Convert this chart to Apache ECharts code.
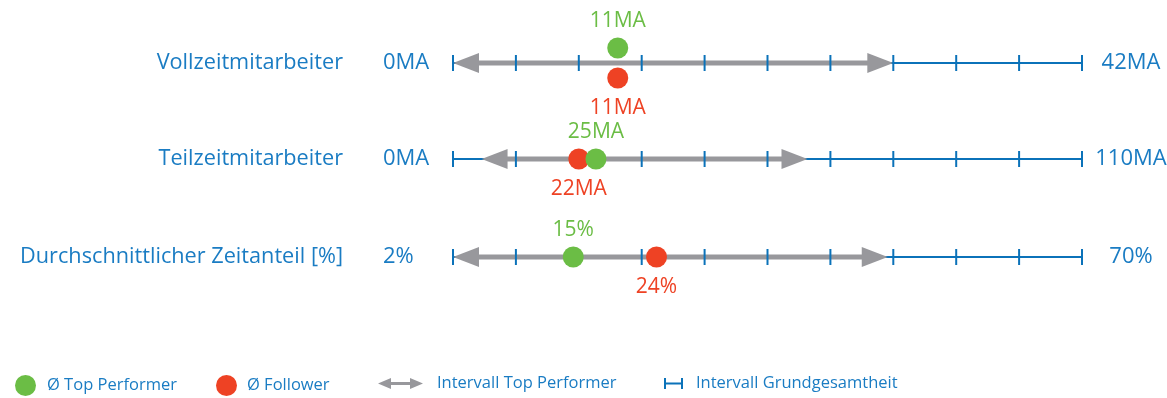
<!DOCTYPE html>
<html>
<head>
<meta charset="utf-8">
<script src="https://cdn.jsdelivr.net/npm/echarts@6/dist/echarts.min.js"></script>
<style>
  html, body { margin: 0; padding: 0; background: #ffffff; }
  #chart { width: 1167px; height: 398px; }
</style>
</head>
<body>
<div id="chart"></div>
<script>
// Row definitions
const rowNames = ['Vollzeitmitarbeiter', 'Teilzeitmitarbeiter', 'Durchschnittlicher Zeitanteil [%]'];
const units = ['MA', 'MA', '%'];
// Range of the whole population (Grundgesamtheit)
const rangeMin = [0, 0, 2];
const rangeMax = [42, 110, 70];
// Interval spanned by the top performers
const topIntervalLow = [0, 5, 2];
const topIntervalHigh = [29.4, 62, 49];
// Averages
const topPerformer = [11, 25, 15];
const follower = [11, 22, 24];

const SERIES_TOP = 'Ø Top Performer';
const SERIES_FOLLOW = 'Ø Follower';
const SERIES_INTERVAL = 'Intervall Top Performer';
const SERIES_RANGE = 'Intervall Grundgesamtheit';

const TICK_STEPS = 10;
const AXIS_BLUE = '#0b72b9';
const TEXT_BLUE = '#1a7cc3';
const GREEN = '#6bbd45';
const RED = '#ee4224';
const GREY = '#98989c';
const FONT = '"Open Sans", "Noto Sans", sans-serif';

// Layout
const rowCenterY = [63, 159, 257];
const plotLeft = 453;
const plotRight = 85;
const HEAD_LEN = 26;
const HEAD_HALF = 10;

function rulerLineRenderer(i) {
  return function (params, api) {
    const a = api.coord([api.value(0), 0]);
    const b = api.coord([api.value(1), 0]);
    return {
      type: 'group',
      children: [
        { type: 'line', shape: { x1: a[0], y1: a[1], x2: b[0], y2: b[1] },
          style: { stroke: AXIS_BLUE, lineWidth: 2 } },
        { type: 'text', x: a[0] - 70, y: a[1],
          style: { text: rangeMin[i] + units[i], fill: TEXT_BLUE, fontSize: 22, fontFamily: FONT,
                   align: 'left', verticalAlign: 'middle' } },
        { type: 'text', x: b[0] + 49, y: b[1],
          style: { text: rangeMax[i] + units[i], fill: TEXT_BLUE, fontSize: 22, fontFamily: FONT,
                   align: 'center', verticalAlign: 'middle' } }
      ]
    };
  };
}

function rulerTickRenderer(params, api) {
  const lo = api.value(0), hi = api.value(1);
  const children = [];
  for (let k = 0; k <= TICK_STEPS; k++) {
    const p = api.coord([lo + (hi - lo) * k / TICK_STEPS, 0]);
    children.push({ type: 'line', shape: { x1: p[0], y1: p[1] - 8, x2: p[0], y2: p[1] + 8 },
                    style: { stroke: AXIS_BLUE, lineWidth: 2 } });
  }
  return { type: 'group', children };
}

function arrowRenderer(params, api) {
  const a = api.coord([api.value(0), 0]);
  const b = api.coord([api.value(1), 0]);
  const y = a[1];
  return {
    type: 'group',
    children: [
      { type: 'rect', shape: { x: a[0] + HEAD_LEN - 1, y: y - 2.5, width: b[0] - a[0] - 2 * HEAD_LEN + 2, height: 5 },
        style: { fill: GREY } },
      { type: 'polygon', shape: { points: [[a[0], y], [a[0] + HEAD_LEN, y - HEAD_HALF], [a[0] + HEAD_LEN, y + HEAD_HALF]] },
        style: { fill: GREY } },
      { type: 'polygon', shape: { points: [[b[0], y], [b[0] - HEAD_LEN, y - HEAD_HALF], [b[0] - HEAD_LEN, y + HEAD_HALF]] },
        style: { fill: GREY } }
    ]
  };
}

const grids = [], xAxes = [], yAxes = [], series = [];

rowNames.forEach(function (name, i) {
  grids.push({ left: plotLeft, right: plotRight, top: rowCenterY[i] - 20, height: 40 });
  xAxes.push({ type: 'value', gridIndex: i, min: rangeMin[i], max: rangeMax[i], show: false });
  yAxes.push({
    type: 'category', gridIndex: i, data: [name],
    axisLine: { show: false }, axisTick: { show: false }, splitLine: { show: false },
    axisLabel: { margin: 110, fontSize: 21.7, fontFamily: FONT, color: TEXT_BLUE }
  });

  const same = topPerformer[i] === follower[i];

  series.push({
    name: SERIES_RANGE, type: 'custom', xAxisIndex: i, yAxisIndex: i, z: 2, silent: true,
    itemStyle: { color: AXIS_BLUE },
    encode: { x: [0, 1], y: 2 },
    renderItem: rulerLineRenderer(i),
    data: [[rangeMin[i], rangeMax[i], 0]]
  });
  series.push({
    name: SERIES_INTERVAL, type: 'custom', xAxisIndex: i, yAxisIndex: i, z: 3, silent: true,
    itemStyle: { color: GREY },
    encode: { x: [0, 1], y: 2 },
    renderItem: arrowRenderer,
    data: [[topIntervalLow[i], topIntervalHigh[i], 0]]
  });
  series.push({
    name: SERIES_RANGE, type: 'custom', xAxisIndex: i, yAxisIndex: i, z: 4, silent: true,
    itemStyle: { color: AXIS_BLUE },
    encode: { x: [0, 1], y: 2 },
    renderItem: rulerTickRenderer,
    data: [[rangeMin[i], rangeMax[i], 0]]
  });
  series.push({
    name: SERIES_FOLLOW, type: 'scatter', xAxisIndex: i, yAxisIndex: i, z: 5, silent: true,
    symbol: 'circle', symbolSize: 21, symbolOffset: same ? [0, 15] : [0, 0],
    itemStyle: { color: RED, opacity: 1 },
    label: { show: true, position: 'bottom', distance: 9, fontSize: 21, fontFamily: FONT, color: RED,
             formatter: function (p) { return p.value[0] + units[i]; } },
    data: [[follower[i], 0]]
  });
  series.push({
    name: SERIES_TOP, type: 'scatter', xAxisIndex: i, yAxisIndex: i, z: 6, silent: true,
    symbol: 'circle', symbolSize: 21, symbolOffset: same ? [0, -15] : [0, 0],
    itemStyle: { color: GREEN, opacity: 1 },
    label: { show: true, position: 'top', distance: 6, fontSize: 21, fontFamily: FONT, color: GREEN,
             formatter: function (p) { return p.value[0] + units[i]; } },
    data: [[topPerformer[i], 0]]
  });
});

const legendText = { fontSize: 16.5, fontFamily: FONT, color: TEXT_BLUE };
const legends = [
  { left: 15, itemWidth: 21, itemHeight: 21, name: SERIES_TOP, icon: 'circle', pad: 6 },
  { left: 216, itemWidth: 21, itemHeight: 21, name: SERIES_FOLLOW, icon: 'circle', pad: 5 },
  { left: 378, itemWidth: 45, itemHeight: 11,
    name: SERIES_INTERVAL, icon: 'path://M0,5.5L13,0L13,4L32,4L32,0L45,5.5L32,11L32,7L13,7L13,11Z', pad: 9 },
  { left: 664, itemWidth: 19, itemHeight: 11,
    name: SERIES_RANGE, icon: 'path://M0,0H2V4.5H17V0H19V11H17V6.5H2V11H0Z', pad: 8 }
].map(function (l) {
  return {
    left: l.left, top: 375, padding: 0, orient: 'horizontal', selectedMode: false,
    itemWidth: l.itemWidth, itemHeight: l.itemHeight, itemGap: 0,
    data: [{ name: l.name, icon: l.icon, itemStyle: { opacity: 1 } }],
    textStyle: Object.assign({ padding: [0, 0, 0, l.pad] }, legendText)
  };
});

const chart = echarts.init(document.getElementById('chart'), null, { renderer: 'canvas' });
chart.setOption({
  animation: false,
  backgroundColor: '#ffffff',
  grid: grids,
  xAxis: xAxes,
  yAxis: yAxes,
  legend: legends,
  series: series
});
</script>
</body>
</html>
